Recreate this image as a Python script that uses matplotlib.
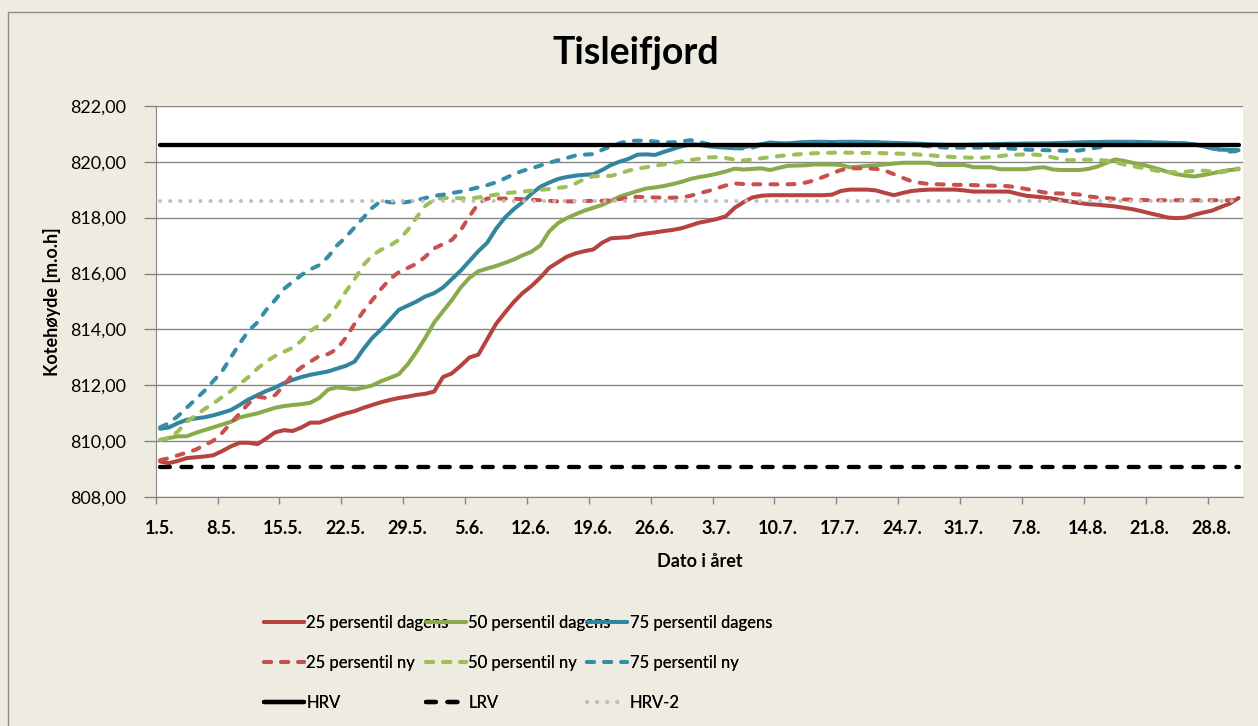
import matplotlib
matplotlib.use("Agg")
import matplotlib.pyplot as plt
from matplotlib.patches import Rectangle
import numpy as np

# date labels on the category axis (one tick mark every 7th day, 1.5. - 31.8.)
tick_labels = ['1.5.', '8.5.', '15.5.', '22.5.', '29.5.', '5.6.', '12.6.', '19.6.', '26.6.',
               '3.7.', '10.7.', '17.7.', '24.7.', '31.7.', '7.8.', '14.8.', '21.8.', '28.8.']

# levels, one value per day
p25_dagens = [
    809.28, 809.22, 809.30, 809.40, 809.43, 809.46, 809.50, 809.65, 809.82, 809.95,
    809.95, 809.90, 810.10, 810.32, 810.40, 810.37, 810.50, 810.67, 810.67, 810.78,
    810.90, 811.00, 811.08, 811.20, 811.30, 811.40, 811.48, 811.55, 811.60, 811.66,
    811.70, 811.78, 812.30, 812.43, 812.70, 813.00, 813.10, 813.65, 814.20, 814.60,
    814.98, 815.30, 815.55, 815.85, 816.20, 816.40, 816.60, 816.72, 816.80, 816.86,
    817.10, 817.26, 817.28, 817.30, 817.38, 817.43, 817.47, 817.52, 817.56, 817.62,
    817.72, 817.82, 817.88, 817.95, 818.05, 818.35, 818.55, 818.72, 818.78, 818.80,
    818.80, 818.80, 818.80, 818.80, 818.80, 818.80, 818.82, 818.95, 819.00, 819.00,
    819.00, 818.97, 818.88, 818.80, 818.88, 818.95, 818.98, 819.00, 819.00, 819.00,
    819.00, 818.97, 818.93, 818.93, 818.93, 818.93, 818.93, 818.85, 818.78, 818.75,
    818.72, 818.68, 818.62, 818.57, 818.52, 818.48, 818.46, 818.43, 818.40, 818.35,
    818.30, 818.23, 818.15, 818.08, 818.00, 817.98, 818.00, 818.10, 818.18, 818.25,
    818.38, 818.50, 818.70]

p50_dagens = [
    810.05, 810.12, 810.18, 810.18, 810.30, 810.40, 810.50, 810.60, 810.70, 810.85,
    810.93, 811.00, 811.10, 811.20, 811.26, 811.30, 811.33, 811.38, 811.55, 811.85,
    811.93, 811.90, 811.86, 811.92, 812.00, 812.15, 812.27, 812.40, 812.75, 813.20,
    813.70, 814.25, 814.65, 815.05, 815.50, 815.85, 816.08, 816.18, 816.27, 816.38,
    816.50, 816.65, 816.78, 817.00, 817.50, 817.80, 817.98, 818.12, 818.25, 818.35,
    818.45, 818.60, 818.75, 818.85, 818.95, 819.04, 819.08, 819.13, 819.20, 819.28,
    819.38, 819.45, 819.50, 819.57, 819.65, 819.75, 819.72, 819.74, 819.76, 819.70,
    819.78, 819.85, 819.86, 819.87, 819.90, 819.90, 819.90, 819.88, 819.80, 819.82,
    819.85, 819.87, 819.90, 819.93, 819.96, 819.96, 819.96, 819.96, 819.88, 819.88,
    819.88, 819.88, 819.80, 819.80, 819.80, 819.73, 819.73, 819.73, 819.73, 819.78,
    819.80, 819.72, 819.70, 819.70, 819.70, 819.74, 819.82, 819.95, 820.08, 820.03,
    819.96, 819.90, 819.82, 819.73, 819.63, 819.55, 819.50, 819.47, 819.52, 819.58,
    819.65, 819.70, 819.73]

p75_dagens = [
    810.45, 810.50, 810.65, 810.77, 810.82, 810.86, 810.93, 811.02, 811.12, 811.30,
    811.50, 811.65, 811.80, 811.92, 812.08, 812.20, 812.30, 812.38, 812.44, 812.50,
    812.60, 812.70, 812.85, 813.30, 813.70, 814.00, 814.35, 814.70, 814.85, 815.00,
    815.18, 815.30, 815.50, 815.80, 816.10, 816.45, 816.80, 817.10, 817.60, 818.00,
    818.30, 818.55, 818.85, 819.10, 819.25, 819.38, 819.45, 819.50, 819.53, 819.55,
    819.70, 819.88, 820.00, 820.10, 820.25, 820.26, 820.24, 820.35, 820.45, 820.55,
    820.62, 820.60, 820.55, 820.52, 820.50, 820.48, 820.52, 820.57, 820.62, 820.68,
    820.66, 820.65, 820.68, 820.70, 820.71, 820.71, 820.70, 820.70, 820.71, 820.71,
    820.70, 820.69, 820.68, 820.67, 820.66, 820.65, 820.64, 820.62, 820.61, 820.60,
    820.60, 820.60, 820.61, 820.62, 820.62, 820.63, 820.64, 820.64, 820.65, 820.65,
    820.65, 820.66, 820.67, 820.68, 820.69, 820.70, 820.70, 820.71, 820.71, 820.71,
    820.71, 820.70, 820.69, 820.68, 820.67, 820.66, 820.65, 820.62, 820.55, 820.47,
    820.43, 820.42, 820.41]

p25_ny = [
    809.33, 809.40, 809.50, 809.60, 809.70, 809.86, 810.02, 810.30, 810.65, 811.00,
    811.35, 811.60, 811.55, 811.65, 812.00, 812.40, 812.65, 812.85, 813.05, 813.12,
    813.30, 813.70, 814.20, 814.65, 815.05, 815.45, 815.80, 816.05, 816.20, 816.35,
    816.60, 816.90, 817.05, 817.20, 817.55, 818.05, 818.50, 818.68, 818.68, 818.68,
    818.67, 818.66, 818.64, 818.62, 818.60, 818.58, 818.58, 818.58, 818.59, 818.60,
    818.60, 818.62, 818.66, 818.72, 818.74, 818.73, 818.72, 818.71, 818.71, 818.72,
    818.78, 818.87, 818.95, 819.05, 819.15, 819.22, 819.20, 819.19, 819.19, 819.19,
    819.19, 819.19, 819.20, 819.25, 819.33, 819.45, 819.58, 819.70, 819.76, 819.76,
    819.76, 819.74, 819.68, 819.55, 819.42, 819.30, 819.24, 819.20, 819.19, 819.18,
    819.17, 819.17, 819.16, 819.15, 819.14, 819.14, 819.12, 819.08, 819.02, 818.96,
    818.90, 818.87, 818.86, 818.85, 818.82, 818.76, 818.72, 818.70, 818.67, 818.65,
    818.64, 818.63, 818.62, 818.62, 818.62, 818.62, 818.62, 818.62, 818.62, 818.62,
    818.62, 818.62, 818.62]

p50_ny = [
    810.05, 810.12, 810.35, 810.70, 810.92, 811.15, 811.35, 811.58, 811.80, 812.05,
    812.30, 812.60, 812.85, 813.05, 813.20, 813.35, 813.60, 813.95, 814.15, 814.45,
    814.85, 815.35, 815.80, 816.30, 816.65, 816.85, 817.00, 817.20, 817.55, 818.00,
    818.42, 818.64, 818.70, 818.70, 818.69, 818.68, 818.72, 818.77, 818.82, 818.87,
    818.90, 818.93, 818.96, 818.99, 819.02, 819.06, 819.10, 819.22, 819.38, 819.48,
    819.48, 819.49, 819.58, 819.68, 819.75, 819.80, 819.86, 819.90, 819.95, 820.01,
    820.06, 820.10, 820.15, 820.16, 820.13, 820.07, 820.04, 820.08, 820.12, 820.16,
    820.20, 820.23, 820.26, 820.28, 820.30, 820.31, 820.32, 820.32, 820.32, 820.31,
    820.31, 820.31, 820.30, 820.29, 820.28, 820.27, 820.25, 820.23, 820.20, 820.18,
    820.16, 820.15, 820.14, 820.14, 820.16, 820.20, 820.23, 820.25, 820.26, 820.25,
    820.22, 820.15, 820.08, 820.05, 820.07, 820.07, 820.06, 820.04, 819.98, 819.90,
    819.84, 819.78, 819.72, 819.66, 819.63, 819.62, 819.64, 819.67, 819.68, 819.65,
    819.62, 819.68, 819.76]

p75_ny = [
    810.50, 810.65, 810.90, 811.20, 811.50, 811.80, 812.15, 812.50, 813.00, 813.50,
    813.95, 814.25, 814.70, 815.05, 815.45, 815.70, 815.95, 816.15, 816.30, 816.60,
    817.00, 817.30, 817.65, 818.00, 818.35, 818.60, 818.55, 818.52, 818.56, 818.62,
    818.70, 818.78, 818.82, 818.88, 818.93, 819.00, 819.08, 819.16, 819.26, 819.40,
    819.55, 819.67, 819.76, 819.86, 819.96, 820.05, 820.13, 820.22, 820.25, 820.27,
    820.42, 820.55, 820.66, 820.74, 820.75, 820.75, 820.72, 820.69, 820.69, 820.72,
    820.77, 820.70, 820.63, 820.58, 820.52, 820.48, 820.47, 820.50, 820.60, 820.68,
    820.65, 820.64, 820.66, 820.68, 820.69, 820.70, 820.70, 820.71, 820.71, 820.70,
    820.69, 820.69, 820.68, 820.66, 820.63, 820.60, 820.57, 820.55, 820.52, 820.50,
    820.50, 820.50, 820.50, 820.50, 820.50, 820.49, 820.47, 820.45, 820.43, 820.42,
    820.41, 820.40, 820.39, 820.39, 820.40, 820.45, 820.50, 820.56, 820.62, 820.67,
    820.70, 820.71, 820.69, 820.68, 820.67, 820.66, 820.65, 820.62, 820.55, 820.48,
    820.42, 820.36, 820.38]

hrv = 820.6
lrv = 809.1
hrv_2 = 818.6

BG = '#EEECE1'
plt.rcParams['font.family'] = ['Lato', 'DejaVu Sans']

fig = plt.figure(figsize=(12.58, 7.26), dpi=100, facecolor=BG)
W, H = 1258, 726
# chart border (left / top edge visible in the reference)
fig.patches.append(Rectangle((8 / W, -0.1), 1.2, 1.1 - 12 / H, transform=fig.transFigure,
                             facecolor='none', edgecolor='#8C8C8C', lw=1.0, zorder=0))

ax = fig.add_axes([155.7 / W, 1 - 497.3 / H, (1243 - 155.7) / W, (497.3 - 105.7) / H])
ax.set_facecolor('white')

n = len(p25_dagens)
x = np.arange(n) + 0.5   # category centres

LW = 2.9
solid = dict(lw=LW, solid_capstyle='round', solid_joinstyle='round')
dash = dict(lw=LW, dashes=(1.75, 2.5), dash_capstyle='round', dash_joinstyle='round')
ax.plot(x, p25_dagens, color='#B6433F', label='25 persentil dagens', **solid)
ax.plot(x, p50_dagens, color='#89AB4B', label='50 persentil dagens', **solid)
ax.plot(x, p75_dagens, color='#31859E', label='75 persentil dagens', **solid)
ax.plot(x, p25_ny, color='#C9504D', label='25 persentil ny', **dash)
ax.plot(x, p50_ny, color='#9CBF5A', label='50 persentil ny', **dash)
ax.plot(x, p75_ny, color='#378DA8', label='75 persentil ny', **dash)
ax.plot(x, [hrv] * n, color='black', lw=3.1, solid_capstyle='round', label='HRV')
ax.plot(x, [lrv] * n, color='black', lw=3.1, dashes=(2.3, 2.7), dash_capstyle='round',
        label='LRV')
ax.plot(x, [hrv_2] * n, color='#BFBFBF', lw=2.9, dashes=(0.01, 2.5), dash_capstyle='round',
        label='HRV-2')

ax.set_xlim(0, n)
ax.set_ylim(808, 822)
yt = np.arange(808, 823, 2)
ax.set_yticks(yt)
ax.set_yticklabels([f'{v:.2f}'.replace('.', ',') for v in yt], fontsize=13)
ax.grid(axis='y', color='#868686', lw=1.0)
ax.set_axisbelow(True)

marks = np.arange(0, n, 7)
ax.set_xticks(marks)
ax.set_xticklabels([])
ax.set_xticks(marks + 0.4, minor=True)
ax.set_xticklabels(tick_labels, minor=True, fontsize=13, fontweight='bold')
ax.tick_params(axis='x', which='major', length=5, color='#868686', width=1)
ax.tick_params(axis='x', which='minor', length=0, pad=16)
ax.tick_params(axis='y', length=9, color='#868686', width=1, pad=12)

for s in ['top', 'right']:
    ax.spines[s].set_visible(False)
for s in ['left', 'bottom']:
    ax.spines[s].set_color('#868686')

ax.set_xlabel('Dato i året', fontsize=13, fontweight='bold', labelpad=12)
ax.set_ylabel('Kotehøyde [m.o.h]', fontsize=13, fontweight='bold', labelpad=7)
fig.text(636 / W, 1 - 53 / H, 'Tisleifjord', fontsize=27, fontweight='bold',
         ha='center', va='center')

# legend: three columns placed like the Excel legend
handles, labels = ax.get_legend_handles_labels()
col_x = [264, 426, 587]
for c in range(3):
    idx = [c, c + 3, c + 6]
    leg = fig.legend([handles[i] for i in idx], [labels[i] for i in idx],
                     loc='upper left', bbox_to_anchor=(col_x[c] / W, 1 - 615 / H),
                     frameon=False, fontsize=12, handlelength=2.4, handletextpad=0.15,
                     labelspacing=1.45, borderpad=0, borderaxespad=0)
    fig.add_artist(leg)

fig.savefig('out.png', dpi=100, facecolor=BG)
